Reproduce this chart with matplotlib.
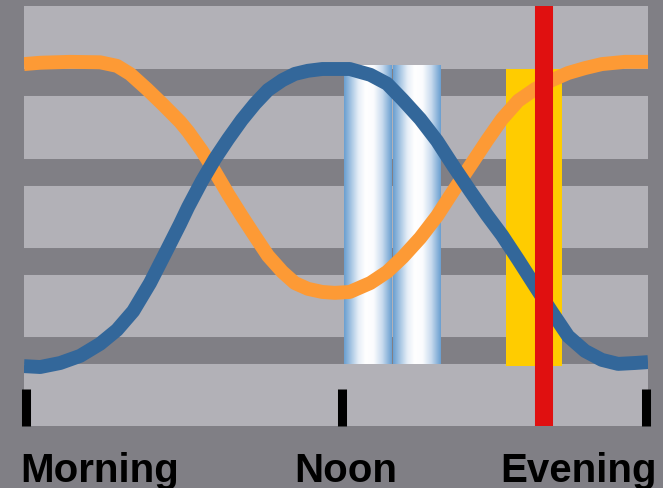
import matplotlib
matplotlib.use("Agg")
import matplotlib.pyplot as plt
import numpy as np
from matplotlib.colors import LinearSegmentedColormap

# time of day runs 0 (morning) .. 1 (evening)
orange_x = [0, 0.026, 0.074, 0.122, 0.149, 0.170, 0.197, 0.223, 0.250, 0.263, 0.285, 0.306,
            0.327, 0.349, 0.370, 0.391, 0.414, 0.434, 0.455, 0.478, 0.498, 0.522, 0.555,
            0.582, 0.607, 0.635, 0.662, 0.688, 0.715, 0.742, 0.766, 0.792, 0.819, 0.846,
            0.872, 0.899, 0.926, 0.963, 1.0]
orange_y = [0.841, 0.844, 0.846, 0.845, 0.837, 0.819, 0.785, 0.750, 0.712, 0.690, 0.647, 0.600,
            0.550, 0.501, 0.456, 0.412, 0.376, 0.351, 0.338, 0.331, 0.329, 0.331, 0.351,
            0.376, 0.409, 0.452, 0.501, 0.557, 0.613, 0.670, 0.718, 0.759, 0.785, 0.805,
            0.821, 0.832, 0.841, 0.846, 0.846]

blue_x = [0, 0.026, 0.058, 0.090, 0.122, 0.149, 0.175, 0.202, 0.229, 0.250, 0.263, 0.285,
          0.306, 0.327, 0.349, 0.370, 0.391, 0.414, 0.434, 0.455, 0.478, 0.498, 0.522,
          0.555, 0.582, 0.607, 0.635, 0.662, 0.688, 0.715, 0.742, 0.766, 0.792, 0.819,
          0.846, 0.872, 0.899, 0.926, 0.952, 0.979, 1.0]
blue_y = [0.165, 0.163, 0.172, 0.188, 0.215, 0.246, 0.288, 0.351, 0.425, 0.483, 0.521, 0.579,
          0.629, 0.673, 0.716, 0.752, 0.783, 0.805, 0.819, 0.826, 0.830, 0.830, 0.830,
          0.817, 0.797, 0.761, 0.718, 0.669, 0.613, 0.557, 0.503, 0.458, 0.403, 0.344,
          0.286, 0.232, 0.199, 0.179, 0.170, 0.172, 0.174]

# the two "cylinder" bars near noon
cyl_left = [0.513, 0.592]
cyl_width = [0.0765, 0.0755]
cyl_bottom = 0.170
cyl_top = 0.837

# yellow bar and red marker near evening
yellow_left = 0.772
yellow_width = 0.090
yellow_bottom = 0.165
yellow_top = 0.830
red_x = 0.833

tick_pos = [0.004, 0.51, 0.996]
labels = ["Morning", "Noon", "Evening"]
label_x = [-0.006, 0.516, 1.014]
label_ha = ["left", "center", "right"]

dark = "#807f85"
light = "#b2b1b7"

fig = plt.figure(figsize=(6.63, 4.89), dpi=100, facecolor=dark)
ax = fig.add_axes([24 / 663, 62 / 489, 624 / 663, 420 / 489])
ax.set_facecolor(light)

cmap = LinearSegmentedColormap.from_list(
    "cyl", [(0, "#6a9fd0"), (0.3, "#e6eef7"), (0.45, "#ffffff"), (0.62, "#fbfcfe"),
            (0.8, "#c9dbee"), (1, "#6a9fd0")])
grad = np.linspace(0, 1, 200).reshape(1, -1)
for l, w in zip(cyl_left, cyl_width):
    ax.imshow(grad, cmap=cmap, aspect="auto", interpolation="bicubic",
              extent=[l, l + w, cyl_bottom, cyl_top], zorder=2)

ax.bar(yellow_left, yellow_top - yellow_bottom, width=yellow_width, bottom=yellow_bottom,
       align="edge", color="#ffcc00", zorder=2)

ax.plot(orange_x, orange_y, color="#fd9a35", lw=10, zorder=3,
        solid_joinstyle="round", solid_capstyle="butt")
ax.plot(blue_x, blue_y, color="#33679a", lw=10, zorder=3,
        solid_joinstyle="round", solid_capstyle="butt")

ax.axvline(red_x, color="#e01010", lw=13, zorder=4)

ax.set_xlim(0, 1)
ax.set_ylim(0.031, 0.971)

ax.set_yticks([0.2, 0.4, 0.6, 0.8])
ax.yaxis.grid(True, color=dark, lw=19.4, zorder=0)
ax.set_axisbelow(True)
ax.tick_params(axis="y", left=False, labelleft=False)

ax.set_xticks(tick_pos)
ax.set_xticklabels([])
ax.tick_params(axis="x", direction="in", length=26.6, width=6.5, color="black")

for s in ax.spines.values():
    s.set_visible(False)

for x, t, ha in zip(label_x, labels, label_ha):
    ax.text(x, -0.131, t, transform=ax.get_xaxis_transform(), ha=ha, va="baseline",
            fontsize=29, fontweight="bold", family="Liberation Sans", color="black")

fig.savefig("out.png", dpi=100, facecolor=dark)
